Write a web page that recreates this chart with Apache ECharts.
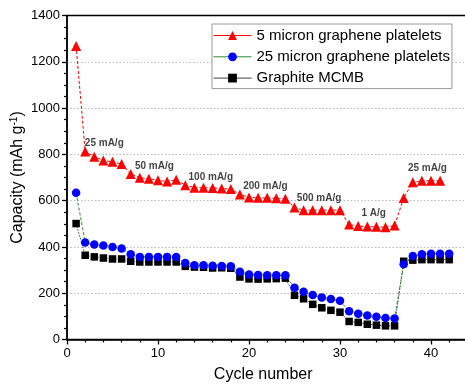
<!DOCTYPE html>
<html>
<head>
<meta charset="utf-8">
<script src="https://cdn.jsdelivr.net/npm/echarts@6/dist/echarts.min.js"></script>
<style>
  html, body { margin: 0; padding: 0; background: #fff; }
  #chart { width: 465px; height: 387px; }
</style>
</head>
<body>
<div id="chart"></div>
<script>
// Rate-capability cycling data (capacity in mAh/g per cycle)
const cycles = Array.from({ length: 42 }, (_, i) => i + 1);

const fiveMicron = [
  1268, 812, 790, 773, 768, 758, 715, 699, 695, 688,
  683, 690, 667, 656, 656, 655, 652, 650, 627, 614,
  612, 612, 610, 608, 570, 559, 559, 559, 559, 559,
  497, 490, 488, 487, 485, 493, 611, 679, 686, 686,
  686
];

const twentyFiveMicron = [
  634, 419, 410, 406, 400, 393, 368, 357, 357, 357,
  357, 356, 331, 321, 321, 319, 318, 317, 293, 281,
  279, 278, 278, 278, 224, 206, 192, 182, 175, 167,
  122, 111, 104, 98, 93, 91, 325, 361, 368, 371,
  371, 371
];

const graphiteMCMB = [
  501, 364, 357, 352, 348, 348, 338, 335, 335, 335,
  335, 335, 316, 313, 312, 309, 310, 308, 270, 262,
  261, 262, 263, 265, 191, 176, 152, 137, 126, 118,
  78, 74, 66, 62, 59, 59, 338, 343, 345, 345,
  345, 345
];

const seriesNames = [
  '5 micron graphene platelets',
  '25 micron graphene platelets',
  'Graphite MCMB'
];

// Current-density annotations, anchored in data coordinates
const rateText = ['25 mA/g', '50 mA/g', '100 mA/g', '200 mA/g', '500 mA/g', '1 A/g', '25 mA/g'];
const rateCycle = [4.1, 9.6, 15.8, 21.8, 27.7, 33.7, 39.6];
const rateCapacity = [850, 750, 702, 663, 611, 546, 741];

const yTicks = { min: 0, max: 1400, step: 200 };
const xTicks = { min: 0, max: 44, step: 10 };

const pair = (vals) => vals.map((v, i) => [cycles[i], v]);
const font = 'Liberation Sans, Arial, sans-serif';

const chart = echarts.init(document.getElementById('chart'), null, { renderer: 'canvas' });

chart.setOption({
  animation: false,
  backgroundColor: '#ffffff',
  textStyle: { fontFamily: font, color: '#000' },
  grid: {
    left: 67, top: 15.5, right: -2.4, bottom: 47.5,
    containLabel: false,
    outerBoundsMode: 'none',
    show: true, borderColor: '#000', borderWidth: 1.3, backgroundColor: 'transparent'
  },
  legend: {
    data: seriesNames,
    orient: 'vertical',
    left: 212, top: 24,
    padding: [4, 2, 3, 1],
    itemWidth: 38, itemHeight: 11, itemGap: 6.3,
    backgroundColor: '#fff',
    borderColor: '#999', borderWidth: 1, borderRadius: 0,
    lineStyle: { type: 'solid', width: 1 },
    textStyle: { fontFamily: font, fontSize: 15, color: '#000', lineHeight: 15 }
  },
  xAxis: {
    type: 'value',
    min: xTicks.min, max: xTicks.max, interval: xTicks.step,
    name: 'Cycle number',
    nameLocation: 'middle', nameGap: 27, nameMoveOverlap: false,
    nameTextStyle: { fontFamily: font, fontSize: 16, color: '#000', padding: [0, 8, 0, 0] },
    axisLine: { show: true, onZero: false, lineStyle: { color: '#000', width: 1.6 } },
    axisTick: { show: true, length: 5, lineStyle: { color: '#000', width: 1.3 } },
    minorTick: { show: true, splitNumber: 5, length: 3, lineStyle: { color: '#000', width: 1.2 } },
    axisLabel: {
      fontFamily: font, fontSize: 13, color: '#000', margin: 7,
      formatter: (v) => (v % xTicks.step === 0 ? String(v) : '')
    },
    splitLine: { show: false }
  },
  yAxis: {
    type: 'value',
    min: yTicks.min, max: yTicks.max, interval: yTicks.step,
    name: 'Capacity (mAh g{sup|-1})',
    nameLocation: 'middle', nameGap: 40, nameMoveOverlap: false,
    nameTextStyle: {
      fontFamily: font, fontSize: 16, color: '#000',
      rich: { sup: { fontFamily: font, fontSize: 10, color: '#000', verticalAlign: 'top', padding: [0, 0, 8, 0] } }
    },
    axisLine: { show: true, onZero: false, lineStyle: { color: '#000', width: 1.6 } },
    axisTick: { show: true, length: 5, lineStyle: { color: '#000', width: 1.3 } },
    minorTick: { show: true, splitNumber: 4, length: 3, lineStyle: { color: '#000', width: 1.2 } },
    axisLabel: { fontFamily: font, fontSize: 13, color: '#000', margin: 7, formatter: (v) => String(v) },
    splitLine: {
      show: true, showMinLine: false, showMaxLine: false,
      lineStyle: { color: '#b8b8b8', type: [1.5, 2], width: 1 }
    }
  },
  series: [
    {
      name: seriesNames[0],
      type: 'line',
      data: pair(fiveMicron),
      symbol: 'triangle', symbolSize: 10,
      itemStyle: { color: '#ff0000' },
      lineStyle: { color: '#ff0000', width: 1, type: [3, 2] },
      z: 4
    },
    {
      name: seriesNames[1],
      type: 'line',
      data: pair(twentyFiveMicron),
      symbol: 'circle', symbolSize: 8.5,
      itemStyle: { color: '#0000ff' },
      lineStyle: { color: '#2e8b2e', width: 1, type: [3, 2] },
      z: 3
    },
    {
      name: seriesNames[2],
      type: 'line',
      data: pair(graphiteMCMB),
      symbol: 'rect', symbolSize: 7.5,
      itemStyle: { color: '#000000' },
      lineStyle: { color: '#444', width: 1, type: [1.5, 1.5] },
      z: 2
    },
    {
      name: 'rates',
      type: 'scatter',
      symbolSize: 0,
      silent: true,
      data: rateText.map((t, i) => ({ name: t, value: [rateCycle[i], rateCapacity[i]] })),
      label: {
        show: true, position: 'inside',
        formatter: (p) => p.name,
        fontFamily: font, fontSize: 10, fontWeight: 'bold', color: '#111'
      },
      z: 5
    }
  ]
});
</script>
</body>
</html>
